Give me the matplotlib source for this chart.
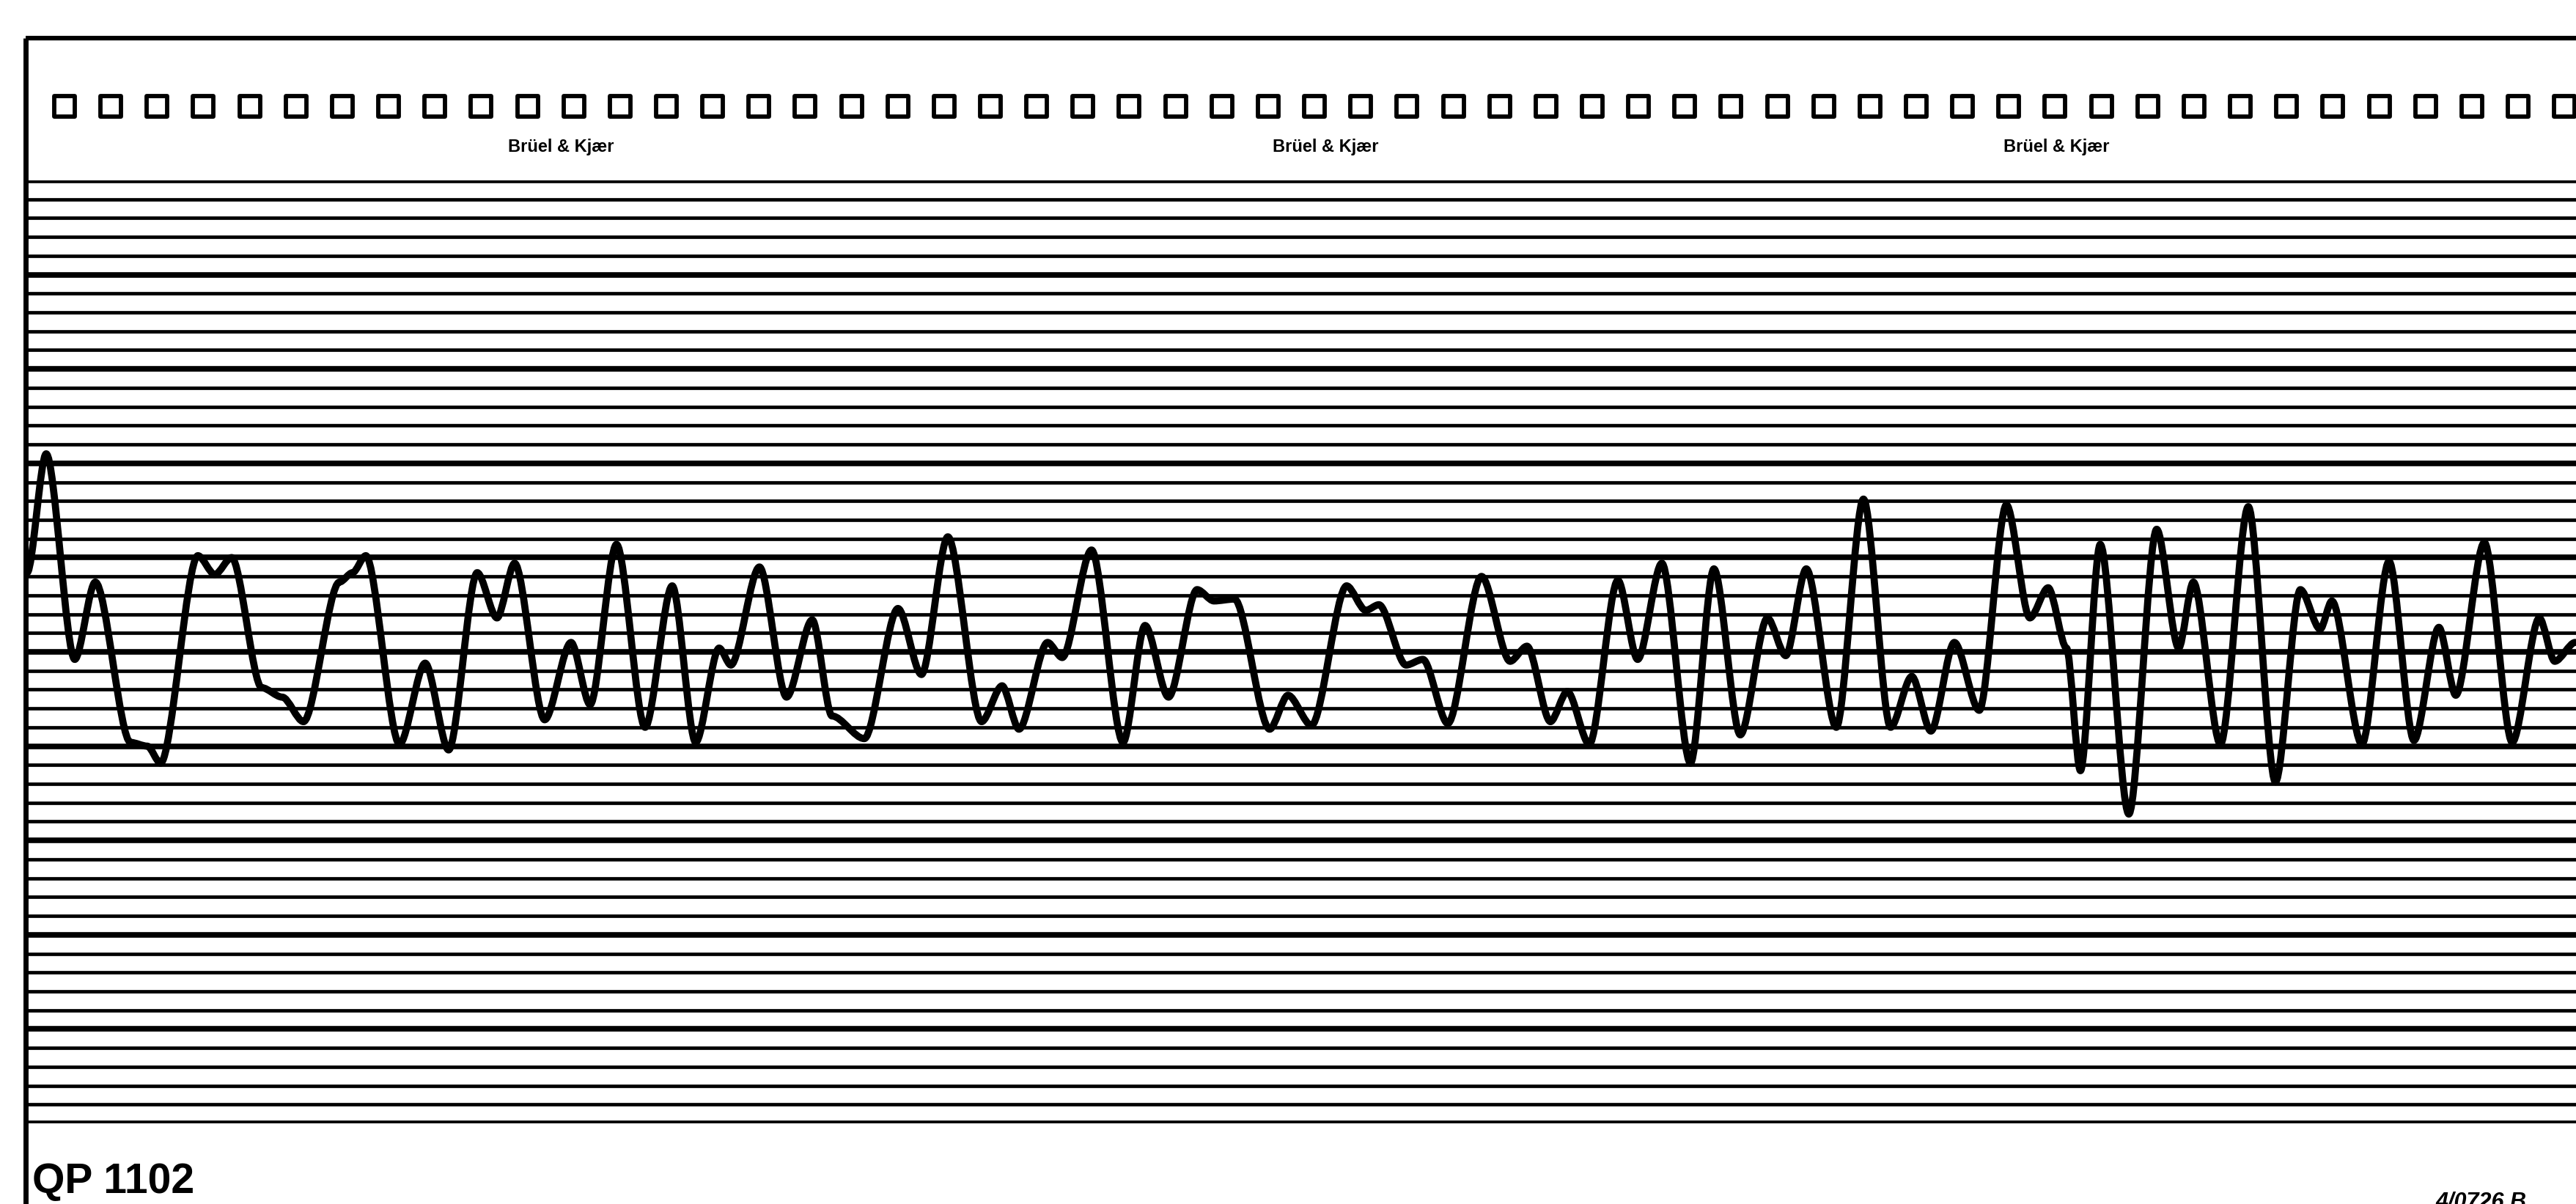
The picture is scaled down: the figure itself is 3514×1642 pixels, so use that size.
import numpy as np
import matplotlib.pyplot as plt
from matplotlib.path import Path
from matplotlib.patches import PathPatch

# Pegelschrieb: Papiervorschub [mm] und Pegel [dB] (Extremwerte der Spur)
vorschub = [0.2, 2.8, 6.7, 9.5, 14.3, 16.6, 18.4, 23.5, 25.8, 28.1,
            32.2, 35.0, 37.9, 42.8, 44.6, 46.4, 51.0, 54.5, 57.7, 61.6,
            64.3, 66.7, 70.8, 74.4, 77.0, 80.6, 84.5, 88.2, 91.4, 94.6,
            96.2, 100.1, 103.8, 107.3, 110.0, 114.4, 119.0, 122.2, 125.8, 130.4,
            133.2, 135.5, 139.4, 141.4, 145.4, 149.7, 152.7, 155.9, 159.8, 162.1,
            164.9, 169.7, 172.2, 175.4, 180.2, 182.8, 184.6, 188.3, 190.6, 194.0,
            198.6, 202.5, 204.8, 208.0, 210.3, 213.3, 217.2, 219.9, 223.2, 227.1,
            230.3, 233.9, 237.6, 240.1, 242.9, 247.0, 250.7, 254.4, 257.3, 259.9,
            263.1, 266.5, 270.2, 273.4, 275.9, 278.4, 280.3, 283.0, 286.9, 290.7,
            293.7, 295.7, 299.4, 303.2, 306.9, 310.3, 313.0, 314.6, 318.7, 322.4,
            325.8, 329.2, 331.5, 335.4, 339.2, 342.9, 345.0, 347.8]
pegel = [29.2, 35.5, 24.6, 28.7, 20.2, 20.0, 19.1, 30.1, 29.1, 30.0,
         23.1, 22.6, 21.3, 28.7, 29.2, 30.1, 20.1, 24.4, 19.8, 29.2,
         26.8, 29.7, 21.4, 25.5, 22.2, 30.7, 21.0, 28.5, 20.2, 25.2,
         24.3, 29.5, 22.6, 26.7, 21.6, 20.4, 27.3, 23.8, 31.1, 21.3,
         23.2, 20.9, 25.5, 24.7, 30.4, 20.2, 26.4, 22.6, 28.3, 27.7,
         27.8, 20.9, 22.7, 21.1, 28.5, 27.2, 27.5, 24.3, 24.6, 21.2,
         29.0, 24.5, 25.3, 21.3, 22.9, 20.1, 28.8, 24.6, 29.7, 19.1,
         29.4, 20.6, 26.8, 24.8, 29.4, 21.0, 33.1, 21.0, 23.7, 20.8,
         25.5, 21.9, 32.8, 26.8, 28.4, 25.2, 18.7, 30.7, 16.4, 31.5,
         25.2, 28.7, 20.1, 32.7, 18.1, 28.3, 26.2, 27.7, 20.1, 29.8,
         20.3, 26.3, 22.7, 30.8, 20.2, 26.8, 24.5, 25.5]

# Papier: 50 dB Bereich, Linie je 1 dB, jede 5. Linie kraeftiger
linien_db = np.arange(0, 51)
firma = "Brüel & Kjær"
papier = "QP 1102"
nummer = "4/0726 B"

W, H = 3514, 1642
fig = plt.figure(figsize=(W / 100, H / 100), dpi=100)
fig.patch.set_facecolor("white")

# Papierrand, Transportloecher, Beschriftung
deko = fig.add_axes([0, 0, 1, 1])
deko.set_xlim(0, W)
deko.set_ylim(H, 0)
deko.axis("off")
deko.plot([35, W], [52, 52], color="black", lw=4.5, solid_capstyle="butt")
deko.plot([35, 35], [52, H], color="black", lw=5, solid_capstyle="butt")
loch_x = 88 + 63.15 * np.arange(55)
deko.scatter(loch_x, np.full(loch_x.size, 145), marker="s", s=430,
             facecolors="white", edgecolors="black", linewidths=4.2)
for xm in [765, 1808, 2805]:
    deko.text(xm, 201, firma, ha="center", va="center", fontsize=17,
              fontweight="bold", family=["Liberation Sans", "DejaVu Sans"])
deko.text(44, 1627, papier, ha="left", va="baseline", fontsize=41,
          fontweight="bold", family=["Liberation Sans", "DejaVu Sans"])
deko.text(3323, 1624, nummer, ha="left", va="top", fontsize=22,
          fontweight="bold", style="italic", family=["Liberation Sans", "DejaVu Sans"])

# Schreibbereich
ax = fig.add_axes([35 / W, 1 - 1532 / H, (W - 35) / W, (1532 - 246) / H])
ax.set_facecolor("none")
ax.set_xlim(0, 347.9)
ax.set_ylim(0, 50)
ax.axis("off")
breiten = [5.5 if d % 5 == 0 else 3.4 for d in linien_db]
ax.hlines(linien_db, 0, 347.9, colors="black", linewidths=breiten)

# Schreiberspur als glatter Zug durch die Extremwerte
k = 0.3
verts = [(vorschub[0], pegel[0])]
codes = [Path.MOVETO]
for i in range(1, len(vorschub)):
    dx = vorschub[i] - vorschub[i - 1]
    verts += [(vorschub[i - 1] + k * dx, pegel[i - 1]),
              (vorschub[i] - k * dx, pegel[i]),
              (vorschub[i], pegel[i])]
    codes += [Path.CURVE4] * 3
ax.add_patch(PathPatch(Path(verts, codes), fill=False, ec="black", lw=7,
                       capstyle="round", joinstyle="round", clip_on=False))

plt.savefig("out.png", dpi=100)
plt.close()
